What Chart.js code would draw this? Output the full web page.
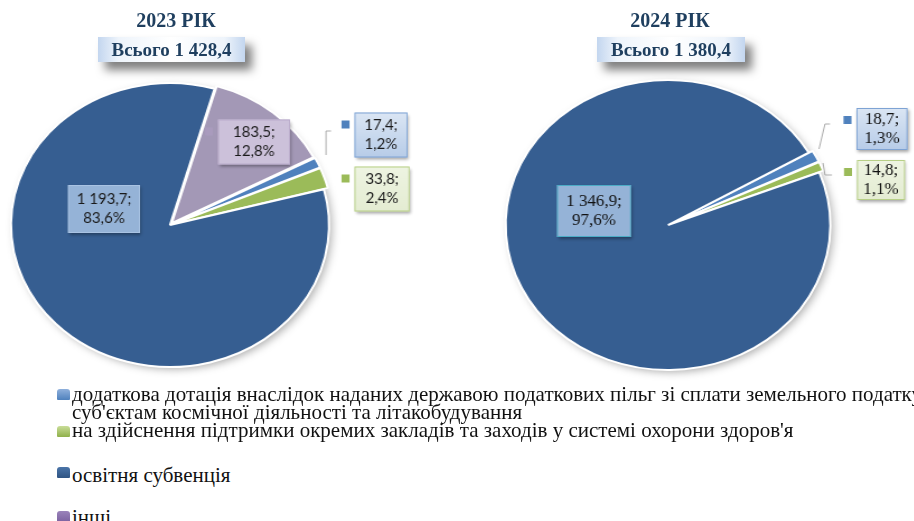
<!DOCTYPE html>
<html>
<head>
<meta charset="utf-8">
<script src="https://cdn.jsdelivr.net/npm/chart.js@4.4.1/dist/chart.umd.min.js"></script>
<style>
    html, body { margin: 0; padding: 0; background: #fff; }
    body { width: 914px; height: 521px; position: relative; overflow: hidden; font-family: "Liberation Serif", "Times New Roman", serif; }
    canvas { position: absolute; top: 0; transform-origin: 0 0; }
    .year { position: absolute; font-weight: bold; font-size: 20px; color: #1f3f5f; text-align: center; width: 200px; }
    .total {
        position: absolute; height: 25px; line-height: 25px; text-align: center;
        font-weight: bold; font-size: 19px; color: #1f3f5f;
        background: linear-gradient(90deg, #c3d6ef 0%, #eef4fb 14%, #fff 50%, #eef4fb 86%, #c3d6ef 100%);
        box-shadow: 7px 8px 10px rgba(0, 0, 0, 0.5);
    }
    .lg-mark { position: absolute; width: 13px; height: 11px; border-radius: 3px 3px 1px 1px; }
    .lg-text { position: absolute; left: 72px; font-size: 21px; line-height: 18px; color: #111; white-space: pre; }
</style>
</head>
<body>
<canvas id="pie2023" width="400" height="390" style="left:0px"></canvas>
<canvas id="pie2024" width="405" height="390" style="left:460px"></canvas>
<div id="titles"></div>
<div id="legend"></div>
<script>
// categories (order of the legend and of the slices)
const categories = [
    'додаткова дотація внаслідок наданих державою податкових пільг зі сплати земельного податку\nсуб\'єктам космічної діяльності та літакобудування',
    'на здійснення підтримки окремих закладів та заходів у системі охорони здоров\'я',
    'освітня субвенція',
    'інші'
];
const years = ['2023 РІК', '2024 РІК'];
const totals = [1428.4, 1380.4];

const values2023 = [17.4, 33.8, 1193.7, 183.5];
const percents2023 = [1.2, 2.4, 83.6, 12.8];

const values2024 = [18.7, 14.8, 1346.9, 0];
const percents2024 = [1.3, 1.1, 97.6, 0];

// styles
const sliceColors = ['#4f81bd', '#9bbb59', '#365e91', '#a398b6'];
const legendColors = [
    'linear-gradient(#8fb0dc, #4f81bd)',
    'linear-gradient(#c9dd98, #8fb04a)',
    'linear-gradient(#4a74a8, #2f5483)',
    'linear-gradient(#9a83ba, #7c62a0)'
];
const STRETCH = 1.12;

function fmt(v) {
    const parts = v.toFixed(1).split('.');
    parts[0] = parts[0].replace(/\B(?=(\d{3})+(?!\d))/g, ' ');
    return parts.join(',');
}

// label boxes: offsets (screen px) of the box centre from the pie centre
const labels2023 = {
    font: '15px Lato', lineH: 19, textColor: '#1a1a1a',
    boxes: [
        { dx: 211, dy: -90, w: 53, h: 45, fill: ['#dbe6f4', '#b7cce8'], stroke: '#7ea3d4', mark: '#4f81bd' },
        { dx: 212, dy: -36, w: 55, h: 45, fill: ['#eef4e2', '#e4ecd2'], stroke: '#b7cf86', mark: '#9bbb59' },
        { dx: -66, dy: -16, w: 72, h: 48, fill: ['#95b3d7', '#95b3d7'], stroke: '#a9c3e3', mark: null },
        { dx: 84, dy: -83, w: 72, h: 45, fill: ['#ccc1da', '#ccc1da'], stroke: '#b9abcb', mark: '#a99bbd' }
    ],
    leaders: [
        [[161, -94], [156, -94], [156, -70]]
    ]
};
const labels2024 = {
    font: '17px "Liberation Serif", "Times New Roman", serif', lineH: 19, textColor: '#111',
    boxes: [
        { dx: 214, dy: -96, w: 51, h: 42, fill: ['#dbe6f4', '#b7cce8'], stroke: '#7ea3d4', mark: '#4f81bd' },
        { dx: 213, dy: -45, w: 48, h: 40, fill: ['#eef4e2', '#e4ecd2'], stroke: '#b7cf86', mark: '#9bbb59' },
        { dx: -74, dy: -14, w: 74, h: 52, fill: ['#95b3d7', '#95b3d7'], stroke: '#4bacc6', mark: null },
        null
    ],
    leaders: [
        [[162, -101], [157, -101], [151, -76]],
        [[164, -50], [157, -50], [155, -62]]
    ]
};

const shadowPlugin = {
    id: 'pieShadow',
    beforeDatasetsDraw(chart) {
        const arc = chart.getDatasetMeta(0).data[0];
        const ctx = chart.ctx;
        ctx.save();
        ctx.shadowColor = 'rgba(0,0,0,0.35)';
        ctx.shadowBlur = 8;
        ctx.shadowOffsetX = 3;
        ctx.shadowOffsetY = 3;
        ctx.fillStyle = '#fff';
        ctx.beginPath();
        ctx.arc(arc.x, arc.y, arc.outerRadius - 1, 0, Math.PI * 2);
        ctx.fill();
        ctx.restore();
    }
};

const boxLabelPlugin = {
    id: 'boxLabels',
    afterDatasetsDraw(chart, args, opts) {
        const ctx = chart.ctx;
        const meta = chart.getDatasetMeta(0);
        const cx = meta.data[0].x, cy = meta.data[0].y;
        const values = chart.data.datasets[0].data;
        const pct = opts.percents;
        const st = opts.style;

        ctx.save();
        ctx.translate(cx, cy);
        ctx.scale(1 / STRETCH, 1);
        // leader lines
        ctx.strokeStyle = '#a6a6a6';
        ctx.lineWidth = 1;
        st.leaders.forEach(function (pts) {
            ctx.beginPath();
            pts.forEach(function (p, k) { k ? ctx.lineTo(p[0], p[1]) : ctx.moveTo(p[0], p[1]); });
            ctx.stroke();
        });
        values.forEach(function (v, i) {
            const b = st.boxes[i];
            if (!b || !v) return;
            const x0 = b.dx - b.w / 2, y0 = b.dy - b.h / 2;
            ctx.save();
            ctx.shadowColor = 'rgba(0,0,0,0.35)';
            ctx.shadowBlur = 3;
            ctx.shadowOffsetX = 1;
            ctx.shadowOffsetY = 2;
            const g = ctx.createLinearGradient(0, y0, 0, y0 + b.h);
            g.addColorStop(0, b.fill[0]);
            g.addColorStop(1, b.fill[1]);
            ctx.fillStyle = g;
            ctx.fillRect(x0, y0, b.w, b.h);
            ctx.restore();
            ctx.strokeStyle = b.stroke;
            ctx.lineWidth = 1;
            ctx.strokeRect(x0 + 0.5, y0 + 0.5, b.w - 1, b.h - 1);
            if (b.mark) {
                ctx.fillStyle = b.mark;
                ctx.fillRect(x0 - 13, y0 + 8, 8, 8);
            }
            ctx.fillStyle = st.textColor;
            ctx.font = st.font;
            ctx.textAlign = 'center';
            ctx.textBaseline = 'middle';
            ctx.fillText(fmt(v) + ';', b.dx, b.dy - st.lineH / 2);
            ctx.fillText(pct[i].toFixed(1).replace('.', ',') + '%', b.dx, b.dy + st.lineH / 2);
        });
        ctx.restore();
    }
};

function makePie(id, values, percents, style, rotation, radius, padding) {
    const canvas = document.getElementById(id);
    canvas.style.transform = 'scaleX(' + STRETCH + ')';
    return new Chart(canvas, {
        type: 'pie',
        data: {
            labels: categories,
            datasets: [{
                data: values,
                backgroundColor: sliceColors,
                borderColor: '#ffffff',
                borderWidth: 2,
                offset: [8, 8, 0, 10],
                rotation: rotation,
                radius: radius
            }]
        },
        options: {
            responsive: false,
            animation: false,
            layout: { padding: padding },
            plugins: {
                legend: { display: false },
                tooltip: { enabled: false },
                boxLabels: { percents: percents, style: style }
            }
        },
        plugins: [shadowPlugin, boxLabelPlugin]
    });
}

makePie('pie2023', values2023, percents2023, labels2023, 62.5, 142,
    { left: 0, right: 96.4, top: 80, bottom: 20 });
makePie('pie2024', values2024, percents2024, labels2024, 60, 145,
    { left: 0, right: 33.6, top: 80, bottom: 20 });

// titles
const titlePos = [
    { yearX: 76, boxX: 98, boxW: 147 },
    { yearX: 570, boxX: 597, boxW: 148 }
];
const titles = document.getElementById('titles');
years.forEach(function (y, i) {
    const p = titlePos[i];
    const yr = document.createElement('div');
    yr.className = 'year';
    yr.style.left = p.yearX + 'px';
    yr.style.top = '9px';
    yr.textContent = y;
    titles.appendChild(yr);
    const tb = document.createElement('div');
    tb.className = 'total';
    tb.style.left = p.boxX + 'px';
    tb.style.top = '37px';
    tb.style.width = p.boxW + 'px';
    tb.textContent = 'Всього ' + fmt(totals[i]);
    titles.appendChild(tb);
});

// legend
const legendTops = [385, 421, 466, 508];
const markTops = [389, 426, 467, 511];
const legend = document.getElementById('legend');
categories.forEach(function (c, i) {
    const m = document.createElement('div');
    m.className = 'lg-mark';
    m.style.left = '57px';
    m.style.top = markTops[i] + 'px';
    m.style.background = legendColors[i];
    legend.appendChild(m);
    const t = document.createElement('div');
    t.className = 'lg-text';
    t.style.top = legendTops[i] + 'px';
    t.textContent = c;
    legend.appendChild(t);
});
</script>
</body>
</html>
